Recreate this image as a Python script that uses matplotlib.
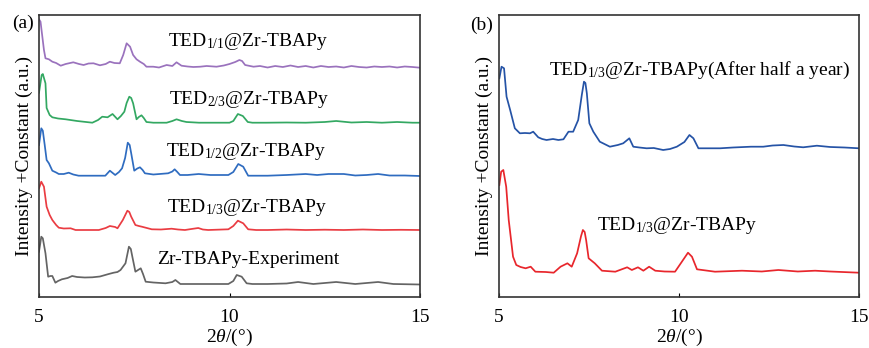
import matplotlib
matplotlib.use("Agg")
import matplotlib.pyplot as plt

plt.rcParams['font.family'] = ['Liberation Serif', 'DejaVu Serif']
plt.rcParams['mathtext.fontset'] = 'custom'
plt.rcParams['mathtext.rm'] = 'Liberation Serif'
plt.rcParams['mathtext.it'] = 'Liberation Serif:italic'

# ---------------- Panel (a) data ----------------
x_a_purple = [5.0,5.04,5.13,5.17,5.26,5.35,5.45,5.57,5.7,5.9,6.05,6.17,6.3,6.43,6.6,6.75,6.86,6.98,7.12,7.21,7.3,7.39,7.47,7.56,7.65,7.75,7.82,8.0,8.15,8.35,8.5,8.61,8.74,8.9,9.05,9.23,9.4,9.66,9.85,10.0,10.15,10.26,10.33,10.41,10.63,10.8,11.0,11.2,11.4,11.6,11.8,12.0,12.2,12.4,12.6,12.8,13.0,13.2,13.4,13.6,13.8,14.0,14.2,14.4,14.6,14.8,15.0]
i_a_purple = [47.7,45.3,17,8.7,7.7,5.3,4,1.3,3,4.7,3,2,3.5,3.7,1.7,3,5.3,4,3.7,12,23.7,20.3,12,7.7,5.3,3,0.3,0.3,-0.5,2,1,4.7,1.3,0.5,0,0.3,1,0.3,1.5,3,5,7,6,2,0.3,1,-0.5,1,0,1.5,0,1,-0.5,1,0,0.5,-0.5,1,0,-0.5,0.5,0,0.5,-0.5,0.5,0,-0.7]
off_a_purple = 230

x_a_green = [5.0,5.07,5.1,5.17,5.2,5.28,5.35,5.5,5.7,6.0,6.4,6.55,6.66,6.8,6.93,7.06,7.15,7.24,7.3,7.37,7.42,7.47,7.56,7.62,7.69,7.75,7.82,8.0,8.35,8.5,8.61,8.75,8.87,9.2,9.6,10.0,10.1,10.22,10.35,10.48,10.6,10.96,11.5,12.0,12.5,12.8,13.2,13.6,14.0,14.4,14.8,15.0]
i_a_green = [30,47.7,48.7,39.4,14.7,7.7,5.4,4.2,3.4,1.7,0,2.7,6,5.4,8.7,3.4,6.7,11,19.7,26,24.7,19.4,3.4,5.7,7.4,4.7,0.7,0,0,1.7,3.4,1.7,0.7,0,0,0,1.7,8.7,6.7,0.7,0,0,0.2,0,0.7,1.7,0.2,0.7,0,0.7,0,0]
off_a_green = 174.3

x_a_blue = [5.0,5.06,5.1,5.15,5.2,5.26,5.35,5.45,5.52,5.65,5.78,5.9,6.04,6.4,6.74,6.86,7.0,7.1,7.18,7.26,7.33,7.38,7.42,7.5,7.58,7.65,7.72,7.78,8.0,8.39,8.5,8.56,8.63,8.7,8.9,9.19,9.5,9.97,10.1,10.23,10.36,10.49,10.7,11.0,11.5,12.0,12.3,12.6,13.0,13.3,13.6,13.9,14.2,14.6,15.0]
i_a_blue = [30.7,47.4,45,30.7,15.7,12.4,5,3.2,1.7,1.7,3,1.2,0,0,0,5,0.7,3.7,7.4,17.7,33,30.7,22.4,5,7.2,8.4,5.7,2.4,1.2,2.4,4.2,6.4,3.7,0.7,0.7,1.7,0.7,0.7,3.7,11.7,9,0,0,0,0.7,1.7,0.7,1.7,1.7,0.2,0.7,1.7,0.2,0.2,-0.3]
off_a_blue = 121.3

x_a_red = [5.0,5.06,5.13,5.2,5.28,5.35,5.45,5.52,5.65,5.83,5.96,6.2,6.57,6.75,6.86,7.0,7.06,7.2,7.32,7.37,7.42,7.53,7.62,7.7,7.96,8.2,8.48,8.65,8.83,9.0,9.18,9.3,9.44,9.97,10.1,10.22,10.36,10.49,10.7,11.0,11.5,12.0,12.5,13.0,13.5,14.0,14.5,15.0]
i_a_red = [41.7,48.3,43.3,23.3,15,10,5,2.3,1.5,1.7,0,0,0,2,4,3,1.7,10,19.3,18,13.3,5,4,3.3,0.7,0.5,1.3,0.5,0,1,2,0.5,0,0.7,4,9.3,6.7,0.7,0,0,0.5,0,0.3,0,0.5,0,0.2,0]
off_a_red = 67

x_a_grey = [5.0,5.06,5.1,5.17,5.24,5.3,5.35,5.43,5.5,5.6,5.75,5.87,6.0,6.2,6.4,6.6,6.83,6.96,7.06,7.14,7.27,7.36,7.41,7.45,7.53,7.6,7.67,7.73,7.8,8.0,8.32,8.5,8.58,8.71,9.0,9.5,9.97,10.1,10.19,10.32,10.45,10.6,11.0,11.5,11.8,12.2,12.8,13.3,13.9,14.3,15.0]
i_a_grey = [32.3,47.3,45.7,30.7,7.3,8,8,1.3,3,4.7,6,8,7,6.5,6.7,7.5,10,11.3,12,14,20.7,37.3,35,27.3,12.3,14,15.7,10,2.3,1.5,0.7,2,4,0,0,0,0,3,9,7.3,0.7,0,0,0.5,2,0,2,0,2,0,-0.5]
off_a_grey = 13

labels_a = ["TED$_\\mathregular{1/1}$@Zr-TBAPy", "TED$_\\mathregular{2/3}$@Zr-TBAPy",
            "TED$_\\mathregular{1/2}$@Zr-TBAPy", "TED$_\\mathregular{1/3}$@Zr-TBAPy",
            "Zr-TBAPy-Experiment"]

# ---------------- Panel (b) data ----------------
x_b_blue = [5.01,5.07,5.14,5.21,5.31,5.44,5.58,5.72,5.86,5.95,6.09,6.2,6.32,6.5,6.65,6.79,6.93,7.06,7.2,7.3,7.36,7.4,7.44,7.51,7.62,7.8,8.08,8.3,8.45,8.62,8.73,8.9,9.1,9.3,9.56,9.75,9.94,10.15,10.29,10.4,10.54,10.8,11.14,11.5,12.0,12.34,12.6,12.9,13.2,13.45,13.83,14.2,14.6,15.0]
i_b_blue = [70,81.6,80,51.6,38.3,20,15,15.3,15,16.6,11,9.3,8.3,9.3,8.3,9,16.6,16.6,28.3,53.3,66.6,65.3,55,25,16.6,6.6,1.6,3.3,5,10,1.6,0.8,0,0.3,-1.7,-0.7,1.6,6.3,13.3,10,0,0,0,0.8,1.6,1.6,2.8,3.3,1.8,1,2.6,1.3,0.8,0]
off_b_blue = 148.7

x_b_red = [5.01,5.06,5.12,5.2,5.27,5.39,5.48,5.6,5.74,5.88,6.01,6.3,6.52,6.71,6.9,7.02,7.17,7.28,7.33,7.38,7.42,7.49,7.66,7.86,8.23,8.56,8.69,8.86,9.01,9.17,9.34,9.6,9.89,10.08,10.25,10.36,10.5,11.0,11.75,12.3,12.76,13.3,13.78,14.2,15.0]
i_b_red = [87,100.3,102,85.3,52,15.3,7,5,3.7,5.3,0.3,0,-0.7,5.3,8.7,5.3,18.7,36,42,40,32,13.7,8.7,1.3,0.3,4.7,2,4.7,1.3,5.3,1.3,0.5,0.3,10.3,19.3,15.3,2.7,0.3,1.3,0.5,2,0.5,1.3,0.5,-0.7]
off_b_red = 25

labels_b = ["TED$_\\mathregular{1/3}$@Zr-TBAPy(After half a year)", "TED$_\\mathregular{1/3}$@Zr-TBAPy"]

xticks = [5, 10, 15]

fig = plt.figure(figsize=(8.69, 3.48), dpi=100)
W, H = 869, 348
axa = fig.add_axes([39/W, 1-297/H, (420-39)/W, (297-15)/H])
axb = fig.add_axes([499/W, 1-297/H, (859-499)/W, (297-15)/H])

lw = 1.25
series_a = [
    (x_a_purple, i_a_purple, off_a_purple, '#9a72bd'),
    (x_a_green, i_a_green, off_a_green, '#33a862'),
    (x_a_blue, i_a_blue, off_a_blue, '#2f6cc0'),
    (x_a_red, i_a_red, off_a_red, '#ea3c42'),
    (x_a_grey, i_a_grey, off_a_grey, '#646464'),
]
for xs, ys, off, c in series_a:
    axa.plot(xs, [v + off for v in ys], color=c, lw=lw)

axb.plot(x_b_blue, [v + off_b_blue for v in i_b_blue], color='#2553a6', lw=lw)
axb.plot(x_b_red, [v + off_b_red for v in i_b_red], color='#e8262c', lw=lw)

fs = 14
for ax in (axa, axb):
    ax.set_xlim(5, 15)
    ax.set_ylim(0, 282)
    ax.set_xticks(xticks)
    ax.set_xticklabels([str(t) for t in xticks], fontsize=fs)
    ax.set_yticks([])
    ax.tick_params(axis='x', direction='in', length=3, pad=9)
    for s in ax.spines.values():
        s.set_linewidth(1.2)
        s.set_color('#333333')
    ax.set_xlabel("2$\\mathit{\\theta}$/(°)", fontsize=fs, labelpad=0)
    ax.set_ylabel("Intensity +Constant (a.u.)", fontsize=fs, labelpad=4)

def px_to_data_a(px, py):
    return 5 + (px - 39) / 38.1, 297 - py

lab_pos_a = [(168, 42), (169, 100), (166, 152), (167, 207), (157, 259)]
for (px, py), t in zip(lab_pos_a, labels_a):
    xd, yd = px_to_data_a(px, py)
    axa.text(xd, yd, t, fontsize=fs, ha='left', va='center')

def px_to_data_b(px, py):
    return 5 + (px - 499) / 36.0, 297 - py

lab_pos_b = [(549, 70), (597, 226)]
for (px, py), t in zip(lab_pos_b, labels_b):
    xd, yd = px_to_data_b(px, py)
    axb.text(xd, yd, t, fontsize=fs, ha='left', va='center')

fig.text(12/W, 1-23/H, "(a)", fontsize=fs, ha='left', va='center')
fig.text(470/W, 1-25/H, "(b)", fontsize=fs, ha='left', va='center')

fig.savefig("out.png", dpi=100)
